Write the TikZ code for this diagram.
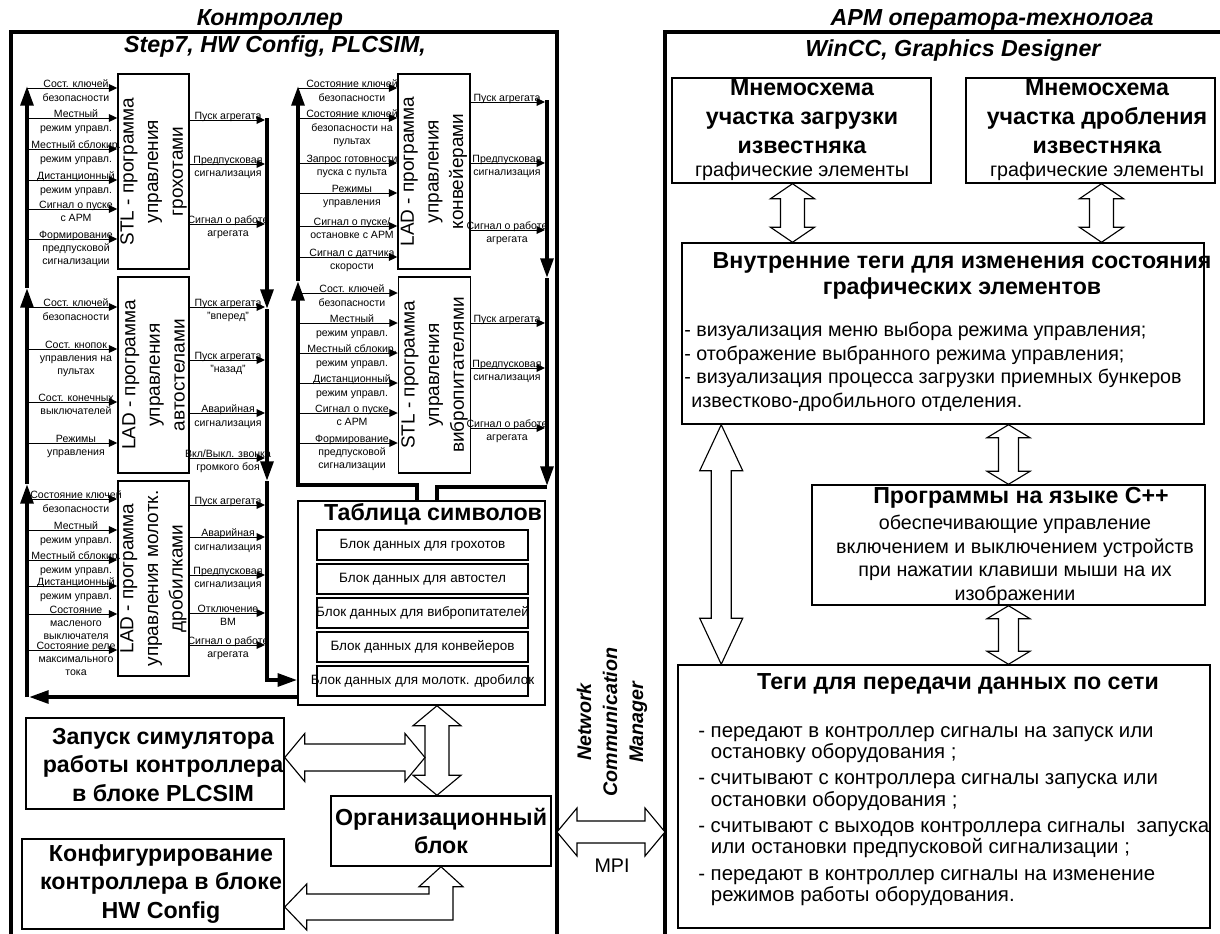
\documentclass[tikz,border=0pt]{standalone}
\usepackage{fontspec}
\setmainfont{Liberation Sans}
\usetikzlibrary{arrows.meta,calc}

\newcommand{\smallreg}{\normalfont\fontsize{14}{16}\selectfont}
% hollow double arrows: tip, tip, head length, head half width, shaft half width
\newcommand{\vdarrow}[5]{\draw[hollow] (#1) -- ++(#4,#3) -- ++({#5-#4},0) -- ($(#1 |- #2)+(#5,-#3)$) -- ++({#4-#5},0) -- (#1 |- #2) -- ++(-#4,-#3) -- ++({#4-#5},0) -- ($(#1)+(-#5,#3)$) -- ++({#5-#4},0) -- cycle;}
\newcommand{\hdarrow}[5]{\draw[hollow] (#1) -- ++(#3,-#4) -- ++(0,{#4-#5}) -- ($(#1 -| #2)+(-#3,-#5)$) -- ++(0,{#5-#4}) -- (#1 -| #2) -- ++(-#3,#4) -- ++(0,{#5-#4}) -- ($(#1)+(#3,#5)$) -- ++(0,{#4-#5}) -- cycle;}

\tikzset{
  frm/.style={line width=2.2pt},
  blk/.style={draw, line width=1pt, inner sep=0pt},
  sig/.style={line width=0.7pt, >={Triangle[length=6pt,width=5.5pt]}},
  bus/.style={line width=2.8pt, >={Triangle[length=14pt,width=9pt]}},
  hollow/.style={draw, fill=white, line width=0.8pt, line join=miter},
  lbl/.style={font=\fontsize{7.5}{9.3}\selectfont, align=center, inner sep=0pt, anchor=north, yshift=5.8pt},
  vlab/.style={font=\fontsize{13.5}{17.5}\selectfont, align=center, rotate=90, inner sep=0pt},
  hdg/.style={font=\bfseries\itshape\fontsize{16.5}{20}\selectfont, inner sep=0pt},
  ttl/.style={font=\bfseries\fontsize{16.5}{20.5}\selectfont, align=center, inner sep=0pt},
  txt/.style={font=\fontsize{14}{16.8}\selectfont, align=left, inner sep=0pt},
  dbtxt/.style={font=\fontsize{9.6}{11}\selectfont}
}

\begin{document}
\begin{tikzpicture}[x=0.025cm,y=-0.025cm]
\useasboundingbox (0,0) rectangle (1220,933);
\clip (0,0) rectangle (1220,933);

% ---- frames and headings
\draw[frm] (11,32) rectangle (557,960);
\draw[frm] (665,32) rectangle (1240,960);
\node[hdg] (ctl) at (270,21) {\underline{Контроллер}};
\node[hdg] (ctl-sw) at (275,47) {Step7, HW Config, PLCSIM,};
\node[hdg] (arm) at (992,21) {\underline{АРМ оператора-технолога}};
\node[hdg] (arm-sw) at (953,51) {WinCC, Graphics Designer};

% ---- program blocks
\node[blk, minimum width=1.775cm, minimum height=4.875cm] (b1) at (153.5,171.5) {};
\node[blk, minimum width=1.775cm, minimum height=4.9cm] (b2) at (153.5,375) {};
\node[blk, minimum width=1.775cm, minimum height=4.875cm] (b3) at (153.5,578.5) {};
\node[blk, minimum width=1.8cm, minimum height=4.875cm] (b4) at (434,171.5) {};
\node[blk, minimum width=1.8cm, minimum height=4.9cm] (b5) at (434.5,375) {};
\node[vlab] (b1-t) at (b1.center) {STL - программа\\управления\\грохотами};
\node[vlab] (b2-t) at (b2.center) {LAD - программа\\управления\\автостелами};
\node[vlab] (b3-t) at (b3.center) {LAD - программа\\управления молотк.\\дробилками};
\node[vlab] (b4-t) at (b4.center) {LAD - программа\\управления\\конвейерами};
\node[vlab] (b5-t) at (b5.center) {STL - программа\\управления\\вибропитателями};

% ---- inputs
\foreach \y/\t [count=\i] in {88/{Сост. ключей\\безопасности},118/{Местный\\режим управл.},149/{Местный сблокир.\\режим управл.},180/{Дистанционный\\режим управл.},209/{Сигнал о пуске\\с АРМ},239/{Формирование\\предпусковой\\сигнализации}}
  {\draw[sig,->] (27,\y) -- (b1.west |- 0,\y); \node[lbl] (b1-in\i) at (76,\y) {\t};}
\foreach \y/\t [count=\i] in {307/{Сост. ключей\\безопасности},349/{Сост. кнопок\\управления на\\пультах},402/{Сост. конечных\\выключателей},443/{Режимы\\управления}}
  {\draw[sig,->] (27,\y) -- (b2.west |- 0,\y); \node[lbl] (b2-in\i) at (76,\y) {\t};}
\foreach \y/\t [count=\i] in {499/{Состояние ключей\\безопасности},530/{Местный\\режим управл.},560/{Местный сблокир.\\режим управл.},586/{Дистанционный\\режим управл.},614/{Состояние\\масленого\\выключателя},650/{Состояние реле\\максимального\\тока}}
  {\draw[sig,->] (27,\y) -- (b3.west |- 0,\y); \node[lbl] (b3-in\i) at (76,\y) {\t};}
\foreach \y/\t [count=\i] in {88/{Состояние ключей\\безопасности},118/{Состояние ключей\\безопасности на\\пультах},163/{Запрос готовности\\пуска с пульта},193/{Режимы\\управления},226/{Сигнал о пуске/\\остановке с АРМ},257/{Сигнал с датчика\\скорости}}
  {\draw[sig,->] (298,\y) -- (b4.west |- 0,\y); \node[lbl] (b4-in\i) at (352,\y) {\t};}
\foreach \y/\t [count=\i] in {293/{Сост. ключей\\безопасности},323/{Местный\\режим управл.},353/{Местный сблокир.\\режим управл.},383/{Дистанционный\\режим управл.},413/{Сигнал о пуске\\с АРМ},443/{Формирование\\предпусковой\\сигнализации}}
  {\draw[sig,->] (298,\y) -- (b5.west |- 0,\y); \node[lbl] (b5-in\i) at (352,\y) {\t};}

% ---- outputs
\foreach \y/\t [count=\i] in {120/{Пуск агрегата},164/{Предпусковая\\сигнализация},224/{Сигнал о работе\\агрегата}}
  {\draw[sig,->] (b1.east |- 0,\y) -- (265,\y); \node[lbl] (b1-out\i) at (228,\y) {\t};}
\foreach \y/\t [count=\i] in {307/{Пуск агрегата\\"вперед"},360/{Пуск агрегата\\"назад"},413/{Аварийная\\сигнализация},458/{Вкл/Выкл. звонка\\громкого боя}}
  {\draw[sig,->] (b2.east |- 0,\y) -- (265,\y); \node[lbl] (b2-out\i) at (228,\y) {\t};}
\foreach \y/\t [count=\i] in {505/{Пуск агрегата},537/{Аварийная\\сигнализация},575/{Предпусковая\\сигнализация},613/{Отключение\\ВМ},645/{Сигнал о работе\\агрегата}}
  {\draw[sig,->] (b3.east |- 0,\y) -- (265,\y); \node[lbl] (b3-out\i) at (228,\y) {\t};}
\foreach \y/\t [count=\i] in {102/{Пуск агрегата},163/{Предпусковая\\сигнализация},230/{Сигнал о работе\\агрегата}}
  {\draw[sig,->] (b4.east |- 0,\y) -- (545,\y); \node[lbl] (b4-out\i) at (507,\y) {\t};}
\foreach \y/\t [count=\i] in {323/{Пуск агрегата},368/{Предпусковая\\сигнализация},428/{Сигнал о работе\\агрегата}}
  {\draw[sig,->] (b5.east |- 0,\y) -- (545,\y); \node[lbl] (b5-out\i) at (507,\y) {\t};}

% ---- symbol table
\node[blk, minimum width=6.175cm, minimum height=5.1cm] (tab) at (421.5,603) {};
\node[ttl] (tab-t) at (433,514) {Таблица символов};
\foreach \y/\t [count=\i] in {545/грохотов,579/автостел,613/вибропитателей,647/конвейеров,681/молотк. дробилок}
  \node[blk, dbtxt, minimum width=5.275cm, minimum height=0.75cm] (db\i) at (422.5,\y) {\makebox[0pt]{Блок данных для \t}};

% ---- buses
\draw[bus,->] (27,697) -- (27,484);
\draw[bus,->] (27,484) -- (27,288);
\draw[bus,->] (27,288) -- (27,86);
\draw[bus,->] (267,118) -- (267,309);
\draw[bus,->] (267,309) -- (267,481);
\draw[bus,->] (267,481) |- (tab.west |- 0,680);
\draw[bus,->] (tab.west |- 0,697) -- (29,697);
\draw[bus,->] (tab.north -| 417,0) |- (298,485) -- (298,281);
\draw[bus,->] (298,281) -- (298,86);
\draw[bus,->] (547,100) -- (547,278);
\draw[bus,->] (547,278) -- (547,486);
\draw[bus] (547,487) -| (tab.north -| 437,0);

% ---- bottom left blocks
\node[blk, minimum width=6.45cm, minimum height=2.275cm] (zap) at (155,763.5) {};
\node[ttl] (zap-t) at (163,765) {Запуск симулятора\\работы контроллера\\в блоке PLCSIM};
\node[blk, ttl, minimum width=5.5cm, minimum height=1.75cm] (org) at (441,831) {Организационный\\блок};
\node[blk, minimum width=6.55cm, minimum height=2.25cm] (conf) at (153,884) {};
\node[ttl] (conf-t) at (161,884) {Конфигурирование\\контроллера в блоке\\HW Config};

\coordinate (v1b) at ($(org.north)+(-4,0)$);
\coordinate (v1t) at (tab.south -| v1b);
\vdarrow{v1t}{v1b}{20}{24}{12}
\coordinate (h1l) at ($(zap.east)+(0,-6)$);
\coordinate (h1r) at ($(v1b)+(-12,0)$);
\hdarrow{h1l}{h1r}{20}{24}{13.5}
\coordinate (ltip) at ($(conf.east)+(0,23)$);
\draw[hollow] (org.south) -- ++(22,20) -- ++(-10,0) -- ($(org.south |- ltip)+(12,13)$) -- ($(ltip)+(22,13)$) -- ++(0,10) -- (ltip) -- ++(22,-23) -- ++(0,10) -- ($(org.south |- ltip)+(-12,-13)$) -- ($(org.south)+(-12,20)$) -- ++(-10,0) -- cycle;

% ---- network link
\coordinate (mpi-l) at (557,832);
\coordinate (mpi-r) at (665,832);
\hdarrow{mpi-l}{mpi-r}{20}{24}{11}
\node[font=\fontsize{14}{16}\selectfont, inner sep=0pt] (mpi) at (612,866) {MPI};
\node[font=\bfseries\itshape\fontsize{14}{18.5}\selectfont, align=center, rotate=90, inner sep=0pt] (ncm) at (612,722) {Network\\Communication\\Manager};

% ---- operator station
\node[blk, minimum width=6.475cm, minimum height=2.625cm] (m1) at (801.5,130.5) {};
\node[ttl] (m1-t) at (802,130) {Мнемосхема\\участка загрузки\\известняка\\[-4pt]{\smallreg графические элементы}};
\node[blk, minimum width=6.225cm, minimum height=2.625cm] (m2) at (1090.5,130.5) {};
\node[ttl] (m2-t) at (1097,130) {Мнемосхема\\участка дробления\\известняка\\[-4pt]{\smallreg графические элементы}};

\node[blk, minimum width=13.05cm, minimum height=4.525cm] (intr) at (943,333.5) {};
\node[ttl] (intr-t) at (962,276) {Внутренние теги для изменения состояния\\[-2pt]графических элементов};
\node[txt, anchor=north west] (intr-b) at (684,322) {- визуализация меню выбора режима управления;\\- отображение выбранного режима управления;\\- визуализация процесса загрузки приемных бункеров\\\hspace*{5pt}известково-дробильного отделения.};

\node[blk, minimum width=9.825cm, minimum height=3cm] (cpp) at (1008.5,545) {};
\node[ttl] (cpp-t) at (1021,498) {Программы на языке C++};
\node[txt, align=center] (cpp-b) at (1015,560) {обеспечивающие управление\\включением и выключением устройств\\при нажатии клавиши мыши на их\\изображении};

\node[blk, minimum width=13.3cm, minimum height=6.575cm] (tags) at (944,796.5) {};
\node[ttl] (tags-t) at (958,684) {Теги для передачи данных по сети};
\node[txt, font=\fontsize{14.5}{15.2}\selectfont, anchor=north west] (tags-b) at (698,726) {- передают в контроллер сигналы на запуск или\\\hspace*{9pt}остановку оборудования ;\\[3.5pt]- считывают с контроллера сигналы запуска или\\\hspace*{9pt}остановки оборудования ;\\[3.5pt]- считывают с выходов контроллера сигналы\ \ запуска\\\hspace*{9pt}или остановки предпусковой сигнализации ;\\[3.5pt]- передают в контроллер сигналы на изменение\\\hspace*{9pt}режимов работы оборудования.};

\coordinate (a1) at ($(m1.south)+(-9,0)$);
\vdarrow{a1}{intr.north}{15}{22}{12}
\coordinate (a2) at ($(m2.south)+(11,0)$);
\vdarrow{a2}{intr.north}{15}{22}{12}
\coordinate (a3) at (cpp.north |- intr.south);
\vdarrow{a3}{cpp.north}{13}{21.5}{10}
\vdarrow{cpp.south}{tags.north}{13}{21.5}{10}
\coordinate (a5) at ($(intr.south west)+(40,0)$);
\vdarrow{a5}{tags.north}{46}{21.5}{10}
\end{tikzpicture}
\end{document}
